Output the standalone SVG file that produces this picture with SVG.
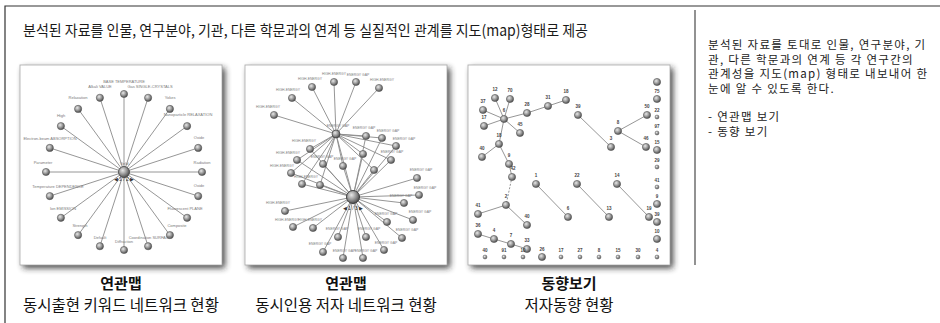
<svg xmlns="http://www.w3.org/2000/svg" width="940" height="323" viewBox="0 0 940 323">
<defs>
<radialGradient id="ball" cx="0.38" cy="0.35" r="0.7">
<stop offset="0" stop-color="#e8e8e8"/>
<stop offset="0.5" stop-color="#9a9a9a"/>
<stop offset="1" stop-color="#444"/>
</radialGradient>
<filter id="shadow" x="-10%" y="-10%" width="125%" height="125%">
<feGaussianBlur stdDeviation="3"/>
</filter>
<symbol id="n" overflow="visible"><circle r="3.6" fill="url(#ball)" stroke="#555" stroke-width="0.6"/></symbol>
<symbol id="s" overflow="visible"><circle r="2" fill="url(#ball)" stroke="#666" stroke-width="0.5"/></symbol>
</defs>
<style>
.t{font-family:"Noto Sans CJK KR","Noto Sans",sans-serif;fill:#1a1a1a}
.title{font-size:15px}
.side{font-size:11.5px;fill:#222;letter-spacing:1.3px}
.cap{font-size:15.5px;text-anchor:middle;fill:#111}
.capb{font-weight:bold;font-size:15px}
.lbl{font-family:"Liberation Sans",sans-serif;font-size:4px;fill:#7a7a7a;text-anchor:middle}
.lb2{font-family:"Liberation Sans",sans-serif;font-size:3.4px;fill:#7a7a7a;text-anchor:middle}
.num{font-family:"Liberation Sans",sans-serif;font-size:4.5px;fill:#444;text-anchor:middle;font-weight:bold}
.e{stroke:#8a8a8a;stroke-width:0.9;fill:none}
.frame{stroke:#333;stroke-width:1.2;fill:none}
.panel{fill:#fff;stroke:#aaa;stroke-width:0.8}
.sh{fill:#222;opacity:0.85}
</style>
<rect width="940" height="323" fill="#fff"/>
<g id="frame">
<path class="frame" d="M5,323 V6 H940"/>
<line x1="695" y1="10" x2="695" y2="265" stroke="#777" stroke-width="1.6"/>
</g>
<g id="title">
<text class="t title" x="23" y="36" textLength="565" lengthAdjust="spacingAndGlyphs">분석된 자료를 인물, 연구분야, 기관, 다른 학문과의 연계 등 실질적인 관계를 지도(map)형태로 제공</text>
</g>
<g id="description">
<text class="t side" x="708" y="49">분석된 자료를 토대로 인물, 연구분야, 기</text>
<text class="t side" x="708" y="63.5">관, 다른 학문과의 연계 등 각 연구간의</text>
<text class="t side" x="708" y="78">관계성을 지도(map) 형태로 내보내어 한</text>
<text class="t side" x="708" y="92.5">눈에 알 수 있도록 한다.</text>
<text class="t side" x="708" y="121">- 연관맵 보기</text>
<text class="t side" x="708" y="135.5">- 동향 보기</text>
</g>

<g id="panel-keyword">
<rect class="sh" x="23" y="68" width="202" height="200" filter="url(#shadow)"/>
<rect class="panel" x="20" y="65" width="202" height="200"/>
<g class="e">
<path d="M124,172 L124,94 M124,172 L148.1,97.8 M124,172 L169.9,108.9 M124,172 L187.1,126.1 M124,172 L198.2,147.9 M124,172 L202,172 M124,172 L198.2,196.1 M124,172 L187.1,217.8 M124,172 L169.9,235.1 M124,172 L148.1,246.2 M124,172 L124,250 M124,172 L99.9,246.2 M124,172 L78.1,235.1 M124,172 L60.9,217.8 M124,172 L49.8,196.1 M124,172 L46,172 M124,172 L49.8,147.9 M124,172 L60.9,126.1 M124,172 L78.1,108.9 M124,172 L99.9,97.8"/>
</g>
<g>
<use href="#n" x="124" y="94"/><use href="#n" x="148.1" y="97.8"/><use href="#n" x="169.9" y="108.9"/><use href="#n" x="187.1" y="126.1"/><use href="#n" x="198.2" y="147.9"/><use href="#n" x="202" y="172"/><use href="#n" x="198.2" y="196.1"/><use href="#n" x="187.1" y="217.8"/><use href="#n" x="169.9" y="235.1"/><use href="#n" x="148.1" y="246.2"/><use href="#n" x="124" y="250"/><use href="#n" x="99.9" y="246.2"/><use href="#n" x="78.1" y="235.1"/><use href="#n" x="60.9" y="217.8"/><use href="#n" x="49.8" y="196.1"/><use href="#n" x="46" y="172"/><use href="#n" x="49.8" y="147.9"/><use href="#n" x="60.9" y="126.1"/><use href="#n" x="78.1" y="108.9"/><use href="#n" x="99.9" y="97.8"/>
<circle cx="124" cy="172" r="5.5" fill="url(#ball)" stroke="#444" stroke-width="0.8"/>
</g>
<g>
<text class="lbl" x="124" y="83">BASE TEMPERATURE</text>
<text class="lbl" x="150" y="88">Gas SINGLE-CRYSTALS</text>
<text class="lbl" x="170" y="99">Yokes</text>
<text class="lbl" x="188" y="116">Nanoparticle RELAXATION</text>
<text class="lbl" x="199" y="139">Oxide</text>
<text class="lbl" x="202" y="164">Radiation</text>
<text class="lbl" x="199" y="187">Oxide</text>
<text class="lbl" x="185" y="210">Fluorescent PLANE</text>
<text class="lbl" x="177" y="227">Composite</text>
<text class="lbl" x="150" y="239">Coordination SURFACE</text>
<text class="lbl" x="124" y="243">Diffraction</text>
<text class="lbl" x="100" y="239">Default</text>
<text class="lbl" x="80" y="227">Strength</text>
<text class="lbl" x="63" y="210">Ion EMISSION</text>
<text class="lbl" x="58" y="188">Temperature DEPENDENCE</text>
<text class="lbl" x="43" y="164">Parameter</text>
<text class="lbl" x="50" y="140">Electron-beam ABSORPTION</text>
<text class="lbl" x="61" y="117">High</text>
<text class="lbl" x="78" y="99">Relaxation</text>
<text class="lbl" x="100" y="88">Alkali VALUE</text>
<text class="lbl" x="124" y="165">Yield</text>
<text class="lbl" x="124" y="181" style="font-size:5px;fill:#333">◀ 1 / 2 ▶</text>
</g>
</g>

<g id="panel-author">
<rect class="sh" x="248" y="68" width="202" height="200" filter="url(#shadow)"/>
<rect class="panel" x="245" y="65" width="202" height="200"/>
<g class="e">
<path d="M336,134 L312,87 M336,134 L334,82 M336,134 L356,82 M336,134 L379,88 M336,134 L292,98 M336,134 L274,115 M336,134 L366,136 M336,134 L382,138 M336,134 L396,146 M336,134 L310,149 M336,134 L297,160 M336,134 L323,164 M336,134 L343,166 M336,134 L363,154 M336,134 L391,160 M336,134 L374,170 M336,134 L291,173 M336,134 L302,184 M336,134 L320,185 M336,134 L353,197"/>
<path d="M353,197 L366,136 M353,197 L382,138 M353,197 L396,146 M353,197 L310,149 M353,197 L297,160 M353,197 L323,164 M353,197 L343,166 M353,197 L363,154 M353,197 L391,160 M353,197 L374,170 M353,197 L291,173 M353,197 L302,184 M353,197 L320,185 M353,197 L417,178 M353,197 L419,195 M353,197 L404,203 M353,197 L413,220 M353,197 L387,222 M353,197 L402,238 M353,197 L384,250 M353,197 L363,258 M353,197 L343,258 M353,197 L323,252 M353,197 L313,228 M353,197 L338,237 M353,197 L366,237 M353,197 L293,227 M353,197 L285,211"/>
</g>
<g>
<use href="#n" x="312" y="87"/><use href="#n" x="334" y="82"/><use href="#n" x="356" y="82"/><use href="#n" x="379" y="88"/><use href="#n" x="292" y="98"/><use href="#n" x="274" y="115"/>
<use href="#n" x="366" y="136"/><use href="#n" x="382" y="138"/><use href="#n" x="396" y="146"/><use href="#n" x="310" y="149"/><use href="#n" x="297" y="160"/><use href="#n" x="323" y="164"/><use href="#n" x="343" y="166"/><use href="#n" x="363" y="154"/><use href="#n" x="391" y="160"/><use href="#n" x="374" y="170"/><use href="#n" x="291" y="173"/><use href="#n" x="302" y="184"/><use href="#n" x="320" y="185"/>
<use href="#n" x="417" y="178"/><use href="#n" x="419" y="195"/><use href="#n" x="404" y="203"/><use href="#n" x="413" y="220"/><use href="#n" x="387" y="222"/><use href="#n" x="402" y="238"/><use href="#n" x="384" y="250"/><use href="#n" x="363" y="258"/><use href="#n" x="343" y="258"/><use href="#n" x="323" y="252"/><use href="#n" x="313" y="228"/><use href="#n" x="338" y="237"/><use href="#n" x="366" y="237"/><use href="#n" x="293" y="227"/><use href="#n" x="285" y="211"/>
<circle cx="336" cy="134" r="4" fill="url(#ball)" stroke="#444" stroke-width="0.7"/>
<circle cx="353" cy="197" r="6.5" fill="url(#ball)" stroke="#333" stroke-width="0.9"/>
</g>
<g>
<text class="lb2" x="310" y="80">HIGH-ENERGY</text><text class="lb2" x="334" y="75">HIGH-ENERGY</text><text class="lb2" x="358" y="76">ENERGY GAP</text><text class="lb2" x="382" y="81">HIGH-ENERGY</text><text class="lb2" x="288" y="91">HIGH-ENERGY</text><text class="lb2" x="268" y="108">HIGH-ENERGY</text>
<text class="lb2" x="338" y="127">ENERGY GAP</text><text class="lb2" x="364" y="129">ENERGY GAP</text><text class="lb2" x="388" y="132">ENERGY GAP</text><text class="lb2" x="404" y="140">ENERGY GAP</text>
<text class="lb2" x="304" y="142">HIGH-ENERGY</text><text class="lb2" x="288" y="154">HIGH-ENERGY</text><text class="lb2" x="322" y="158">ENERGY GAP</text><text class="lb2" x="345" y="160">ENERGY GAP</text><text class="lb2" x="392" y="153">ENERGY GAP</text><text class="lb2" x="282" y="167">HIGH-ENERGY</text><text class="lb2" x="306" y="178">HIGH-ENERGY</text>
<text class="lb2" x="421" y="171">ENERGY GAP</text><text class="lb2" x="425" y="189">ENERGY GAP</text><text class="lb2" x="401" y="197">ENERGY GAP</text><text class="lb2" x="420" y="213">ENERGY GAP</text><text class="lb2" x="386" y="215">ENERGY GAP</text><text class="lb2" x="407" y="231">ENERGY GAP</text><text class="lb2" x="386" y="244">ENERGY GAP</text>
<text class="lb2" x="366" y="252">ENERGY GAP</text><text class="lb2" x="344" y="252">ENERGY GAP</text><text class="lb2" x="320" y="245">ENERGY GAP</text><text class="lb2" x="310" y="221">HIGH-ENERGY</text><text class="lb2" x="337" y="230">ENERGY GAP</text><text class="lb2" x="369" y="230">ENERGY GAP</text><text class="lb2" x="287" y="221">HIGH-ENERGY</text><text class="lb2" x="278" y="204">HIGH-ENERGY</text>
<text class="lbl" x="353" y="210" style="font-size:5px;fill:#333">◀ 1 / 3 ▶</text>
</g>
</g>

<g id="panel-trend">
<rect class="sh" x="471" y="68" width="202" height="200" filter="url(#shadow)"/>
<rect class="panel" x="468" y="65" width="202" height="200"/>
<g class="e">
<path d="M504,119 L495,98 M504,119 L510,99 M504,119 L483,110 M504,119 L484,126 M504,119 L520,133 M504,119 L527,113 L548,106 L566,100 M504,119 L499,144 L482,157 M499,144 L509,164 L512,177 M506,205 L478,214 M506,205 L527,225 M478,234 L494,239 L511,244 L527,249"/>
<path d="M578,115 L611,147 M618,131 L647,115 M618,131 L646,147 M536,184 L568,217 M577,184 L609,217 M617,184 L649,217"/>
<path d="M512,177 L506,205" stroke-dasharray="2 1.5"/>
</g>
<g>
<use href="#n" x="504" y="119"/><use href="#n" x="495" y="98"/><use href="#n" x="510" y="99"/><use href="#n" x="483" y="110"/><use href="#n" x="484" y="126"/><use href="#n" x="520" y="133"/><use href="#n" x="527" y="113"/><use href="#n" x="548" y="106"/><use href="#n" x="566" y="100"/>
<use href="#n" x="499" y="144"/><use href="#n" x="482" y="157"/><use href="#n" x="509" y="164"/><use href="#n" x="512" y="177"/><use href="#n" x="506" y="205"/><use href="#n" x="478" y="214"/><use href="#n" x="527" y="225"/><use href="#n" x="478" y="234"/><use href="#n" x="494" y="239"/><use href="#n" x="511" y="244"/><use href="#n" x="527" y="249"/>
<use href="#n" x="578" y="115"/><use href="#n" x="611" y="147"/><use href="#n" x="618" y="131"/><use href="#n" x="647" y="115"/><use href="#n" x="646" y="147"/>
<use href="#n" x="536" y="184"/><use href="#n" x="568" y="217"/><use href="#n" x="577" y="184"/><use href="#n" x="609" y="217"/><use href="#n" x="617" y="184"/><use href="#n" x="649" y="217"/>
<use href="#n" x="657" y="82"/><use href="#n" x="657" y="99"/><use href="#s" x="657" y="117"/><use href="#s" x="657" y="133"/><use href="#n" x="657" y="150"/><use href="#s" x="657" y="167"/><use href="#s" x="657" y="187"/><use href="#n" x="657" y="204"/><use href="#n" x="657" y="222"/><use href="#n" x="657" y="239"/>
<use href="#s" x="485" y="257"/><use href="#s" x="504" y="257"/><use href="#s" x="523" y="257"/><use href="#n" x="542" y="257"/><use href="#s" x="561" y="257"/><use href="#s" x="580" y="257"/><use href="#s" x="599" y="257"/><use href="#s" x="618" y="257"/><use href="#s" x="638" y="257"/><use href="#s" x="657" y="257"/>
</g>
<g>
<text class="num" x="495" y="91">12</text><text class="num" x="510" y="92">70</text><text class="num" x="483" y="103">37</text><text class="num" x="484" y="119">17</text><text class="num" x="504" y="112">6</text><text class="num" x="520" y="126">45</text><text class="num" x="527" y="106">28</text><text class="num" x="548" y="99">31</text><text class="num" x="566" y="93">18</text>
<text class="num" x="499" y="137">18</text><text class="num" x="482" y="150">40</text><text class="num" x="509" y="157">9</text><text class="num" x="513" y="170">42</text><text class="num" x="506" y="198">2</text><text class="num" x="478" y="207">41</text><text class="num" x="527" y="218">40</text><text class="num" x="478" y="227">36</text><text class="num" x="494" y="232">4</text><text class="num" x="511" y="237">7</text><text class="num" x="527" y="242">33</text>
<text class="num" x="578" y="108">39</text><text class="num" x="611" y="140">3</text><text class="num" x="618" y="124">8</text><text class="num" x="647" y="108">50</text><text class="num" x="646" y="140">46</text>
<text class="num" x="536" y="177">1</text><text class="num" x="568" y="210">6</text><text class="num" x="577" y="177">22</text><text class="num" x="609" y="210">13</text><text class="num" x="617" y="177">14</text><text class="num" x="649" y="210">19</text>
<text class="num" x="657" y="93">75</text><text class="num" x="657" y="112">22</text><text class="num" x="657" y="128">97</text><text class="num" x="657" y="144">15</text><text class="num" x="657" y="162">29</text><text class="num" x="657" y="182">41</text><text class="num" x="657" y="198">9</text><text class="num" x="657" y="216">39</text><text class="num" x="657" y="233">10</text>
<text class="num" x="485" y="252">40</text><text class="num" x="504" y="252">91</text><text class="num" x="523" y="252">10</text><text class="num" x="542" y="251">26</text><text class="num" x="561" y="252">17</text><text class="num" x="580" y="252">27</text><text class="num" x="599" y="252">8</text><text class="num" x="618" y="252">15</text><text class="num" x="638" y="252">30</text><text class="num" x="657" y="252">4</text>
</g>
</g>

<g id="captions">
<text class="t cap capb" x="121" y="289">연관맵</text>
<text class="t cap" x="121" y="311">동시출현 키워드 네트워크 현황</text>
<text class="t cap capb" x="346" y="289">연관맵</text>
<text class="t cap" x="346" y="311">동시인용 저자 네트워크 현황</text>
<text class="t cap capb" x="569" y="289">동향보기</text>
<text class="t cap" x="569" y="311">저자동향 현황</text>
</g>
</svg>
